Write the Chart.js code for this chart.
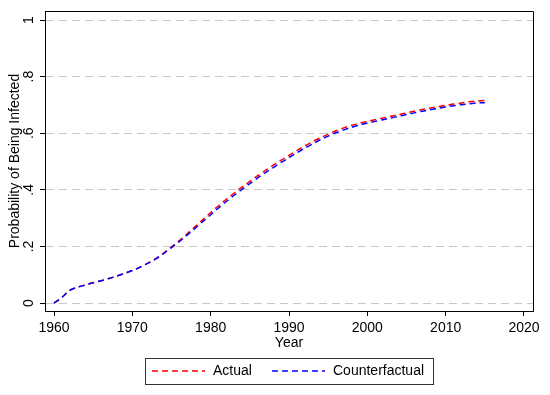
<!DOCTYPE html>
<html>
<head>
<meta charset="utf-8">
<script src="https://cdn.jsdelivr.net/npm/chart.js@4/dist/chart.umd.min.js"></script>
<style>
  html, body { margin: 0; padding: 0; background: #fff; }
  #wrap { width: 550px; height: 395px; }
</style>
</head>
<body>
<div id="wrap"><canvas id="chart" width="550" height="395"></canvas></div>
<script>
const years = [];
for (let y = 1960; y <= 2015; y++) years.push(y);

const actual = [
  0, 0.020, 0.045, 0.056, 0.064, 0.072, 0.079, 0.087, 0.095, 0.105,
  0.115, 0.127, 0.141, 0.157, 0.177, 0.199, 0.221, 0.245, 0.270, 0.295,
  0.320, 0.344, 0.367, 0.389, 0.410, 0.430, 0.450, 0.469, 0.487, 0.505,
  0.522, 0.539, 0.555, 0.570, 0.584, 0.597, 0.609, 0.619, 0.628, 0.636,
  0.642, 0.648, 0.654, 0.660, 0.666, 0.672, 0.678, 0.684, 0.689, 0.694,
  0.699, 0.703, 0.707, 0.711, 0.714, 0.716
];
const counterfactual = [
  0, 0.020, 0.045, 0.056, 0.064, 0.072, 0.079, 0.087, 0.095, 0.105,
  0.115, 0.127, 0.141, 0.156, 0.175, 0.196, 0.217, 0.240, 0.264, 0.288,
  0.312, 0.336, 0.359, 0.381, 0.402, 0.422, 0.442, 0.461, 0.479, 0.497,
  0.514, 0.531, 0.547, 0.562, 0.577, 0.590, 0.602, 0.612, 0.621, 0.629,
  0.636, 0.642, 0.648, 0.654, 0.660, 0.666, 0.672, 0.678, 0.683, 0.688,
  0.693, 0.697, 0.701, 0.704, 0.707, 0.708
];

const xTicks = [1960, 1970, 1980, 1990, 2000, 2010, 2020];
const yTicks = [0, 0.2, 0.4, 0.6, 0.8, 1];
const yTickLabels = ['0', '.2', '.4', '.6', '.8', '1'];

const FONT = '"Liberation Sans", Arial, sans-serif';

// Stata-style extras: frame, rotated y labels, axis titles, boxed legend
const stataBits = {
  id: 'stataBits',
  afterDraw(chart) {
    const { ctx, chartArea: a, scales } = chart;
    ctx.save();
    ctx.strokeStyle = '#000';
    ctx.lineWidth = 1;
    ctx.beginPath();
    ctx.moveTo(a.left, a.top + 0.5);
    ctx.lineTo(a.right + 0.5, a.top + 0.5);
    ctx.lineTo(a.right + 0.5, a.bottom);
    ctx.stroke();

    ctx.fillStyle = '#000';
    ctx.font = '14px ' + FONT;
    ctx.textAlign = 'center';
    ctx.textBaseline = 'middle';
    yTicks.forEach((v, i) => {
      const py = scales.y.getPixelForValue(v);
      ctx.save();
      ctx.translate(29, py);
      ctx.rotate(-Math.PI / 2);
      ctx.fillText(yTickLabels[i], 0, 0);
      ctx.restore();
    });

    ctx.save();
    ctx.translate(15, (a.top + a.bottom) / 2);
    ctx.rotate(-Math.PI / 2);
    ctx.fillText('Probability of Being Infected', 0, 0);
    ctx.restore();

    ctx.fillText('Year', (a.left + a.right) / 2, 343);

    // legend
    const lx = 145, ly = 358, lw = 288, lh = 26;
    ctx.strokeStyle = '#333';
    ctx.lineWidth = 1;
    ctx.strokeRect(lx + 0.5, ly + 0.5, lw, lh);
    const items = [
      { label: 'Actual', color: '#ff0000', x: 152 },
      { label: 'Counterfactual', color: '#0000ff', x: 272 }
    ];
    const my = ly + lh / 2;
    ctx.textAlign = 'left';
    items.forEach(it => {
      ctx.strokeStyle = it.color;
      ctx.lineWidth = 1.3;
      ctx.setLineDash([6, 4]);
      ctx.beginPath();
      ctx.moveTo(it.x, my);
      ctx.lineTo(it.x + 53, my);
      ctx.stroke();
      ctx.setLineDash([]);
      ctx.fillText(it.label, it.x + 61, my);
    });
    ctx.restore();
  }
};

new Chart(document.getElementById('chart'), {
  type: 'line',
  data: {
    labels: years,
    datasets: [
      {
        label: 'Actual',
        data: years.map((y, i) => ({ x: y, y: actual[i] })),
        borderColor: '#ff0000',
        borderWidth: 1.5,
        borderDash: [6, 4],
        pointRadius: 0,
        tension: 0.3,
        fill: false,
        order: 1
      },
      {
        label: 'Counterfactual',
        data: years.map((y, i) => ({ x: y, y: counterfactual[i] })),
        borderColor: '#0000ff',
        borderWidth: 1.5,
        borderDash: [6, 4],
        pointRadius: 0,
        tension: 0.3,
        fill: false,
        order: 0
      }
    ]
  },
  options: {
    responsive: false,
    animation: false,
    layout: { padding: { left: 0, right: 17, top: 11, bottom: 0 } },
    plugins: { legend: { display: false }, tooltip: { enabled: false } },
    scales: {
      x: {
        type: 'linear',
        min: 1958.85,
        max: 2021.15,
        afterBuildTicks: s => { s.ticks = xTicks.map(v => ({ value: v })); },
        afterFit: s => { s.height = 84; },
        ticks: {
          color: '#000',
          font: { size: 14, family: FONT },
          padding: 4,
          maxRotation: 0,
          autoSkip: false,
          callback: v => String(v)
        },
        grid: {
          drawOnChartArea: false,
          drawTicks: true,
          tickLength: 5,
          tickColor: '#000',
          tickWidth: 1
        },
        border: { display: true, color: '#000', width: 1 }
      },
      y: {
        min: -0.028,
        max: 1.032,
        afterBuildTicks: s => { s.ticks = yTicks.map(v => ({ value: v })); },
        afterFit: s => { s.width = 45; },
        ticks: { display: false },
        grid: {
          color: '#c8c8c8',
          lineWidth: 1,
          drawTicks: true,
          tickLength: 5,
          tickColor: '#000',
          tickWidth: 1,
          tickBorderDash: []
        },
        border: { display: true, color: '#000', width: 1, dash: [8, 5] }
      }
    }
  },
  plugins: [stataBits]
});
</script>
</body>
</html>
